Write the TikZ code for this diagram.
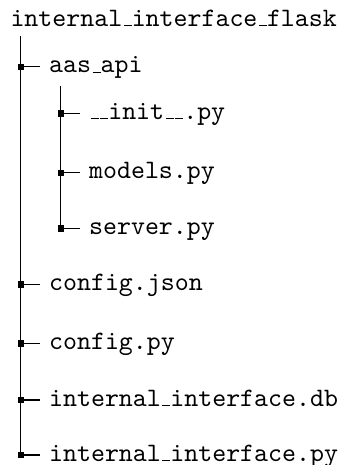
\documentclass[tikz,border=0pt]{standalone}
% short baseline underscore, as in the classic OT1 typewriter set-up
\newcommand\usc{\leavevmode\kern.06em\vbox{\hrule width.3em}}
\tikzset{
  entry/.style={font=\ttfamily\fontsize{10.15}{12}\selectfont, anchor=base west, inner xsep=3.3pt, inner ysep=0pt},
  trunk/.style={line width=0.45pt, draw=black},
  twig/.style={line width=0.4pt, draw=black},
}
\newcommand\knot[1]{\fill (#1) +(-3.2,-3.2) rectangle +(3.2,3.2);}
\begin{document}
\begin{tikzpicture}[x=0.38168pt, y=-0.38168pt]
\useasboundingbox (0,0) rectangle (340,465);

% root folder
\node[entry, inner xsep=0pt] (root) at (10,26) {internal\usc interface\usc flask};

% junctions on the main trunk
\coordinate (t0) at (20.7,36);
\coordinate (j1) at (20.7,66.7);
\coordinate (j2) at (20.7,284.3);
\coordinate (j3) at (20.7,343.3);
\coordinate (j4) at (20.7,400);
\coordinate (j5) at (20.7,455);

% first-level entries
\node[entry] (aas) at (40,72.7)  {aas\usc api};
\node[entry] (cj)  at (40,290.3) {config.json};
\node[entry] (cp)  at (40,349.3) {config.py};
\node[entry] (db)  at (40,406)   {internal\usc interface.db};
\node[entry] (ip)  at (40,461)   {internal\usc interface.py};

% junctions on the aas_api trunk
\coordinate (s0) at (60.7,86);
\coordinate (k1) at (60.7,113.3);
\coordinate (k2) at (60.7,172.7);
\coordinate (k3) at (60.7,228.3);

% second-level entries
\node[entry] (init)   at (80,119.3) {\usc\usc init\usc\usc.py};
\node[entry] (models) at (80,178.7) {models.py};
\node[entry] (server) at (80,234.3) {server.py};

% trunks
\draw[trunk] (t0) -- (j5);
\draw[trunk] (s0) -- (k3);

% branches
\foreach \j/\n in {j1/aas, j2/cj, j3/cp, j4/db, j5/ip, k1/init, k2/models, k3/server}
  {\draw[twig] (\j) -- (\j -| \n.west);}

% junction markers
\foreach \j in {j1,j2,j3,j4,j5,k1,k2,k3}
  {\knot{\j}}
\end{tikzpicture}
\end{document}
